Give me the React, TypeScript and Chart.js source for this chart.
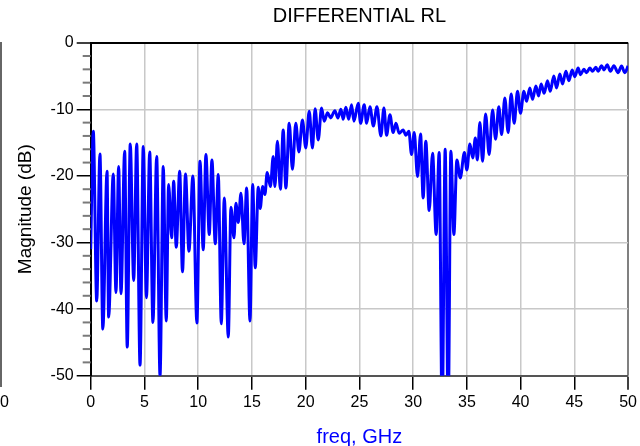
import React, { useEffect, useRef } from "react";
import { Chart, registerables } from "chart.js";

Chart.register(...registerables);

const titleText = "DIFFERENTIAL RL";
const xTitle = "freq, GHz";
const yTitle = "Magnitude (dB)";

const freqGHz = [
  0.0, 0.24, 0.56, 0.86, 1.13, 1.52, 1.67, 2.1, 2.35, 2.6,
  2.82, 3.16, 3.4, 3.68, 4.0, 4.28, 4.59, 4.89, 5.19, 5.49,
  5.79, 6.14, 6.45, 6.75, 7.03, 7.25, 7.53, 7.72, 7.96, 8.28,
  8.54, 8.82, 9.14, 9.51, 9.88, 10.17, 10.47, 10.72, 11.03, 11.28,
  11.59, 11.87, 12.15, 12.43, 12.8, 13.05, 13.33, 13.51, 13.73, 13.98,
  14.26, 14.51, 14.82, 15.07, 15.31, 15.59, 15.77, 16.0, 16.21, 16.42,
  16.72, 16.98, 17.14, 17.37, 17.65, 17.91, 18.16, 18.47, 18.77, 19.08,
  19.37, 19.7, 20.01, 20.33, 20.63, 20.88, 21.17, 21.48, 21.73, 22.04,
  22.32, 22.72, 23.0, 23.28, 23.49, 23.74, 24.0, 24.27, 24.49, 24.89,
  25.11, 25.45, 25.67, 25.98, 26.3, 26.63, 27.0, 27.28, 27.53, 27.84,
  28.14, 28.4, 28.7, 29.07, 29.32, 29.6, 29.85, 30.1, 30.41, 30.69,
  30.93, 31.18, 31.49, 31.81, 32.14, 32.42, 32.7, 32.98, 33.26, 33.51,
  33.79, 34.07, 34.38, 34.77, 35.0, 35.28, 35.54, 35.79, 35.97, 36.21,
  36.46, 36.74, 37.07, 37.39, 37.67, 37.97, 38.23, 38.53, 38.84, 39.12,
  39.4, 39.71, 39.99, 40.3, 40.55, 40.86, 41.11, 41.42, 41.67, 41.91,
  42.19, 42.5, 42.75, 43.09, 43.34, 43.65, 43.9, 44.21, 44.49, 44.79,
  45.04, 45.35, 45.57, 45.88, 46.13, 46.44, 46.69, 47.0, 47.21, 47.53,
  47.77, 48.05, 48.36, 48.67, 49.07, 49.39, 49.69, 50.0,
];

const magnitudeDB = [
  -31, -13.3, -38.8, -16.7, -43, -19.3, -41.2, -19.7, -37.5, -18.6,
  -37.7, -16.3, -45.7, -15.2, -35.7, -15.2, -48.4, -15.6, -38.3, -16.4,
  -42, -17.1, -50, -18.6, -41.8, -21.3, -29.3, -20.8, -30.7, -19.3,
  -34.4, -19.7, -31.3, -20, -42.1, -17.8, -31.1, -16.8, -28.8, -17.6,
  -30.2, -19.8, -42.2, -23.3, -44.2, -24.7, -29.3, -24.1, -27, -22.6,
  -30.2, -21.8, -41.8, -21.3, -33.8, -21.7, -24.9, -21.6, -22.8, -19.5,
  -21.6, -17.1, -21.6, -14.8, -22, -13.1, -21.8, -12.1, -19, -12.1,
  -16.4, -11.6, -15.8, -10.3, -15.8, -9.9, -14.6, -9.8, -11.8, -10.5,
  -11.3, -10.2, -11.3, -10, -11.5, -9.7, -11.5, -9.3, -11.8, -9.1,
  -12.1, -9.3, -12.1, -9.6, -12.5, -9.6, -14, -9.8, -13.9, -10.8,
  -13.5, -12.1, -13.6, -13.1, -13.9, -13.3, -16.8, -13.5, -20.1, -13.7,
  -23.3, -14.8, -25.2, -16.6, -28.8, -16.5, -56, -16, -56, -16.3,
  -28.8, -17.6, -20.3, -16.5, -19.1, -15.2, -17.3, -14.3, -17.6, -12,
  -17.8, -10.7, -16.8, -10.1, -14.5, -9.6, -13.8, -8.3, -13.5, -7.7,
  -12.1, -7.3, -10.6, -7.3, -8.8, -6.8, -8.5, -6.5, -8, -6.2,
  -7.6, -5.7, -7.3, -5, -6.8, -4.7, -6.2, -4.3, -5.7, -4.1,
  -5.1, -3.8, -4.8, -4, -4.5, -3.8, -4.3, -3.7, -4.3, -3.45,
  -4.1, -3.3, -4.3, -3.45, -4.5, -3.5, -4.5, -3.5,
];

const xRange = [0, 50];
const yRange = [-50, 0];
const xStep = 5;
const yStep = 10;
const yMinorTicks = [
  -2, -4, -6, -8, -12, -14, -16, -18, -22, -24, -26, -28,
  -32, -34, -36, -38, -42, -44, -46, -48,
];

const FONT = "'Liberation Sans', Arial, Helvetica, sans-serif";

export default function App() {
  const ref = useRef<HTMLCanvasElement>(null);

  useEffect(() => {
    document.body.style.margin = "0";
    const canvas = ref.current;
    if (!canvas) return;
    const points = freqGHz.map((x, i) => ({ x, y: magnitudeDB[i] }));

    const overlay = {
      id: "overlay",
      afterDraw(chart: any) {
        const { ctx, chartArea, scales } = chart;
        const ys = scales.y;
        ctx.save();
        ctx.strokeStyle = "#7a7a7a";
        ctx.lineWidth = 2;
        for (const v of yMinorTicks) {
          const py = ys.getPixelForValue(v);
          ctx.beginPath();
          ctx.moveTo(chartArea.left - 8, py);
          ctx.lineTo(chartArea.left, py);
          ctx.stroke();
        }
        ctx.fillStyle = "#000";
        ctx.font = `20px ${FONT}`;
        ctx.textAlign = "center";
        ctx.textBaseline = "middle";
        ctx.fillText(titleText, (chartArea.left + chartArea.right) / 2, 16);
        ctx.restore();
      },
    };

    const chart = new Chart(canvas, {
      type: "line",
      data: {
        datasets: [
          {
            data: points,
            borderColor: "#0000ff",
            borderWidth: 3,
            pointRadius: 0,
            cubicInterpolationMode: "monotone",
            clip: 0,
            fill: false,
          } as any,
        ],
      },
      options: {
        animation: false,
        responsive: false,
        maintainAspectRatio: false,
        layout: { padding: { left: 0, right: 11.7, top: 42.7, bottom: 0 } },
        plugins: {
          legend: { display: false },
          title: { display: false },
          tooltip: { enabled: false },
        },
        scales: {
          x: {
            type: "linear",
            min: xRange[0],
            max: xRange[1],
            ticks: {
              stepSize: xStep,
              font: { size: 16, family: FONT },
              color: "#000",
              padding: 3,
              maxRotation: 0,
            },
            grid: {
              color: (c: any) =>
                c.tick && c.tick.value === xRange[1] ? "#808080" : "#c8c8c8",
              lineWidth: (c: any) =>
                c.tick && c.tick.value === xRange[1] ? 2 : 1.5,
              tickColor: "#000",
              tickLength: 14,
              tickWidth: 1.5,
            },
            border: { color: "#555", width: 2 },
            title: {
              display: true,
              text: xTitle,
              color: "#0000ff",
              font: { size: 20, family: FONT, lineHeight: 0.9 },
              padding: 0,
            },
            afterFit: (s: any) => {
              s.height = 70.3;
            },
          },
          y: {
            type: "linear",
            min: yRange[0],
            max: yRange[1],
            ticks: {
              stepSize: yStep,
              font: { size: 16, family: FONT },
              color: "#000",
              padding: 3,
            },
            grid: {
              color: (c: any) =>
                c.tick && c.tick.value === yRange[1] ? "#000" : "#c8c8c8",
              lineWidth: (c: any) =>
                c.tick && c.tick.value === yRange[1] ? 2 : 1.5,
              tickColor: "#000",
              tickLength: 14,
              tickWidth: 1.5,
            },
            border: { color: "#000", width: 2 },
            title: {
              display: true,
              text: yTitle,
              color: "#000",
              font: { size: 19, family: FONT },
              padding: { top: 14, bottom: 0 },
            },
            afterFit: (s: any) => {
              s.width = 90.7;
            },
          },
        },
      },
      plugins: [overlay],
    });

    return () => chart.destroy();
  }, []);

  return (
    <div style={{ position: "fixed", left: 0, top: 0, width: 640, height: 446, background: "#fff", overflow: "hidden" }}>
      <canvas ref={ref} width={640} height={446} style={{ position: "absolute", left: 0, top: 0 }} />
      <div style={{ position: "absolute", left: 0, top: 42, width: 2, height: 345, background: "#666" }} />
      <span style={{ position: "absolute", left: 0, top: 392, fontFamily: FONT, fontSize: 16, lineHeight: "20px", color: "#000" }}>0</span>
    </div>
  );
}
